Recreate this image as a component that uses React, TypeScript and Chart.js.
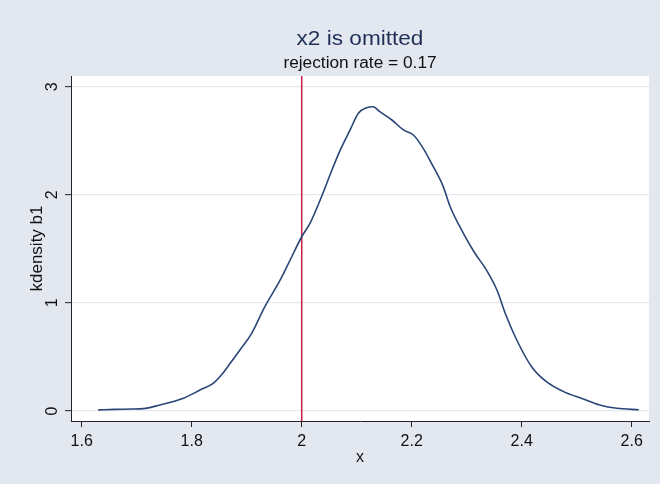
import { useEffect, useRef } from "react";
import { Chart, registerables } from "chart.js";

Chart.register(...registerables);

// ---- data ----
const densityX = [
  1.63, 1.66, 1.69, 1.712, 1.742, 1.765, 1.785, 1.815, 1.839, 1.855, 1.87, 1.89,
  1.909, 1.933, 1.961, 1.979, 2.0, 2.015, 2.036, 2.055, 2.07, 2.088, 2.103, 2.118,
  2.13, 2.142, 2.164, 2.185, 2.203, 2.221, 2.236, 2.257, 2.27, 2.294, 2.315, 2.336,
  2.355, 2.37, 2.391, 2.418, 2.445, 2.476, 2.512, 2.542, 2.573, 2.613,
];
const densityY = [
  0.01, 0.015, 0.018, 0.022, 0.055, 0.085, 0.117, 0.194, 0.256, 0.34, 0.441, 0.58,
  0.719, 0.965, 1.212, 1.397, 1.612, 1.736, 1.982, 2.23, 2.414, 2.6, 2.754, 2.806,
  2.815, 2.769, 2.692, 2.6, 2.553, 2.43, 2.291, 2.08, 1.89, 1.644, 1.459, 1.304,
  1.119, 0.904, 0.657, 0.41, 0.271, 0.179, 0.111, 0.056, 0.025, 0.012,
];
const xTickValues = [1.6, 1.8, 2.0, 2.2, 2.4, 2.6];
const xTickLabels = ["1.6", "1.8", "2", "2.2", "2.4", "2.6"];
const yTickValues = [0, 1, 2, 3];
const yTickLabels = ["0", "1", "2", "3"];
const referenceX = 2;
const xRange = [1.5805, 2.6315];
const yRange = [-0.0925, 3.099];
const titleText = "x2 is omitted";
const subtitleText = "rejection rate = 0.17";
const xAxisTitle = "x";
const yAxisTitle = "kdensity b1";

// ---- styles ----
const BG = "#E2E7F0";
const GRID = "#E4E9F1";
const NAVY = "#2A4677";
const RED = "#C81E45";
const TITLE_COLOR = "#1F2F57";
const FONT = '"Liberation Sans", Arial, sans-serif';

const framePlugin = {
  id: "stataFrame",
  beforeDraw(chart: any) {
    const { ctx, chartArea: a, width, height } = chart;
    ctx.save();
    ctx.fillStyle = BG;
    ctx.fillRect(0, 0, width, height);
    ctx.fillStyle = "#FFFFFF";
    ctx.fillRect(a.left, a.top, a.right - a.left, a.bottom - a.top);
    ctx.restore();
  },
  afterDraw(chart: any) {
    const { ctx, chartArea: a } = chart;
    const cx = (a.left + a.right) / 2;
    ctx.save();
    ctx.textAlign = "center";
    ctx.textBaseline = "alphabetic";
    ctx.fillStyle = TITLE_COLOR;
    ctx.font = `20px ${FONT}`;
    ctx.translate(cx, 45.3);
    ctx.scale(1.13, 1);
    ctx.fillText(titleText, 0, 0);
    ctx.restore();
    ctx.save();
    ctx.textAlign = "center";
    ctx.textBaseline = "alphabetic";
    ctx.fillStyle = "#111111";
    ctx.font = `16px ${FONT}`;
    ctx.translate(cx, 68.3);
    ctx.scale(1.08, 1);
    ctx.fillText(subtitleText, 0, 0);
    ctx.restore();
  },
};

export default function App() {
  const ref = useRef<HTMLCanvasElement | null>(null);

  useEffect(() => {
    if (!ref.current) return;
    const chart = new Chart(ref.current, {
      type: "line",
      data: {
        datasets: [
          {
            label: "reference",
            data: [
              { x: referenceX, y: yRange[0] },
              { x: referenceX, y: yRange[1] },
            ],
            borderColor: RED,
            borderWidth: 1.5,
            pointRadius: 0,
            fill: false,
            order: 2,
          },
          {
            label: "kdensity b1",
            data: densityX.map((x, i) => ({ x, y: densityY[i] })),
            borderColor: NAVY,
            borderWidth: 1.6,
            pointRadius: 0,
            fill: false,
            cubicInterpolationMode: "monotone",
            order: 1,
          },
        ],
      },
      options: {
        responsive: false,
        animation: false,
        devicePixelRatio: 1,
        layout: { padding: { left: 0, right: 11, top: 76, bottom: 0 } },
        plugins: {
          legend: { display: false },
          tooltip: { enabled: false },
          title: { display: false },
        },
        scales: {
          x: {
            type: "linear",
            position: "bottom",
            min: xRange[0],
            max: xRange[1],
            afterBuildTicks: (s: any) => {
              s.ticks = xTickValues.map((v) => ({ value: v }));
            },
            afterFit: (s: any) => {
              s.height = 63;
            },
            grid: {
              display: true,
              drawOnChartArea: false,
              drawTicks: true,
              tickLength: 6,
              tickColor: "#222222",
              tickWidth: 1,
            },
            border: { display: true, color: "#222222", width: 1 },
            ticks: {
              padding: 5,
              color: "#111111",
              font: { family: FONT, size: 16 },
              maxRotation: 0,
              minRotation: 0,
              autoSkip: false,
              callback: (_v: any, i: number) => xTickLabels[i],
            },
            title: {
              display: true,
              text: xAxisTitle,
              color: "#111111",
              font: { family: FONT, size: 16 },
              padding: { top: 0, bottom: 17 },
            },
          },
          y: {
            type: "linear",
            min: yRange[0],
            max: yRange[1],
            afterBuildTicks: (s: any) => {
              s.ticks = yTickValues.map((v) => ({ value: v }));
            },
            afterFit: (s: any) => {
              s.width = 71;
            },
            grid: {
              display: true,
              drawOnChartArea: true,
              color: GRID,
              lineWidth: 1.3,
              drawTicks: true,
              tickLength: 6,
              tickColor: "#222222",
              tickWidth: 1,
            },
            border: { display: true, color: "#222222", width: 1 },
            ticks: {
              padding: 8,
              color: "#111111",
              font: { family: FONT, size: 16 },
              minRotation: 90,
              maxRotation: 90,
              crossAlign: "center",
              autoSkip: false,
              callback: (_v: any, i: number) => yTickLabels[i],
            },
            title: {
              display: true,
              text: yAxisTitle,
              color: "#111111",
              font: { family: FONT, size: 17 },
              padding: { top: 27, bottom: 0 },
            },
          },
        },
      },
      plugins: [framePlugin],
    } as any);
    return () => chart.destroy();
  }, []);

  return (
    <div style={{ position: "fixed", left: 0, top: 0, width: 660, height: 484 }}>
      <canvas ref={ref} width={660} height={484} />
    </div>
  );
}
